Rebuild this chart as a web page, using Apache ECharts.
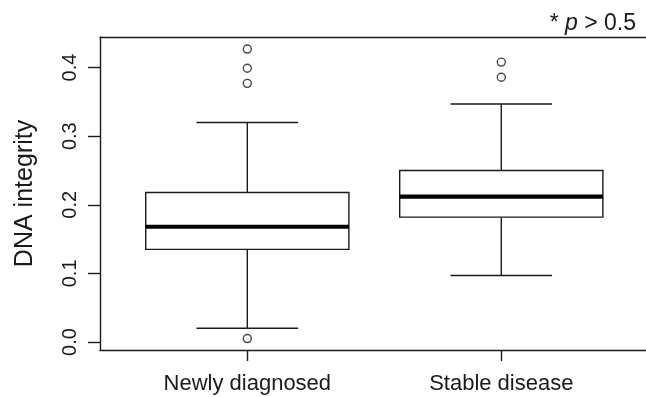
<!DOCTYPE html>
<html>
<head>
<meta charset="utf-8">
<script src="https://cdn.jsdelivr.net/npm/echarts@6/dist/echarts.min.js"></script>
<style>
html,body{margin:0;padding:0;background:#fff;}
#chart{width:646px;height:397px;}
</style>
</head>
<body>
<div id="chart"></div>
<script>
// ---- data ----
var categories = ['Newly diagnosed', 'Stable disease'];
var positions = [1, 2];
var lowerWhisker = [0.020, 0.097];
var q1 = [0.135, 0.182];
var median = [0.168, 0.212];
var q3 = [0.218, 0.250];
var upperWhisker = [0.320, 0.347];
var outliers = [[0.427, 0.399, 0.377, 0.005], [0.408, 0.386]];
var yTicks = [0, 0.1, 0.2, 0.3, 0.4];
var yTickLabels = ['0.0', '0.1', '0.2', '0.3', '0.4'];

var FONT = 'Liberation Sans';
var INK = '#1a1a1a';

var boxData = positions.map(function (p, i) {
  return [p, lowerWhisker[i], q1[i], median[i], q3[i], upperWhisker[i]];
});
var outlierData = [];
positions.forEach(function (p, i) {
  outliers[i].forEach(function (v) { outlierData.push([p, v]); });
});

var chart = echarts.init(document.getElementById('chart'), null, {renderer: 'canvas'});

function renderBox(params, api) {
  var x = api.value(0);
  var lo = api.coord([x, api.value(1)]);
  var b1 = api.coord([x, api.value(2)]);
  var md = api.coord([x, api.value(3)]);
  var b3 = api.coord([x, api.value(4)]);
  var hi = api.coord([x, api.value(5)]);
  var halfBox = api.size([0.4, 0])[0];
  var halfCap = api.size([0.2, 0])[0];
  var cx = lo[0];
  var ls = {stroke: INK, lineWidth: 1.4, fill: null};
  return {
    type: 'group',
    children: [
      {type: 'line', shape: {x1: cx, y1: lo[1], x2: cx, y2: b1[1]}, style: ls},
      {type: 'line', shape: {x1: cx, y1: b3[1], x2: cx, y2: hi[1]}, style: ls},
      {type: 'line', shape: {x1: cx - halfCap, y1: lo[1], x2: cx + halfCap, y2: lo[1]}, style: ls},
      {type: 'line', shape: {x1: cx - halfCap, y1: hi[1], x2: cx + halfCap, y2: hi[1]}, style: ls},
      {type: 'rect', shape: {x: cx - halfBox, y: b3[1], width: 2 * halfBox, height: b1[1] - b3[1]},
        style: {stroke: INK, lineWidth: 1.4, fill: '#fff'}},
      {type: 'line', shape: {x1: cx - halfBox, y1: md[1], x2: cx + halfBox, y2: md[1]},
        style: {stroke: '#000', lineWidth: 4.2}}
    ]
  };
}

var option = {
  backgroundColor: '#fff',
  animation: false,
  title: {
    text: '{a|* }{b|p}{a| > 0.5}',
    right: 5,
    top: 7,
    textStyle: {
      rich: {
        a: {fontFamily: FONT, fontSize: 23, color: INK, fontWeight: 'normal'},
        b: {fontFamily: FONT, fontSize: 23, color: INK, fontWeight: 'normal', fontStyle: 'italic'}
      }
    }
  },
  grid: {
    left: 100, top: 37, height: 313, width: 548.6,
    outerBoundsMode: 'none', containLabel: false,
    show: false
  },
  xAxis: [{
    type: 'value', min: 0.42, max: 2.58,
    splitLine: {show: false},
    axisLine: {show: true, onZero: false, lineStyle: {color: INK, width: 1.4}},
    axisTick: {show: true, length: 11, customValues: positions, lineStyle: {color: INK, width: 1.4}},
    axisLabel: {
      customValues: positions,
      formatter: function (v) { return categories[Math.round(v) - 1]; },
      fontFamily: FONT, fontSize: 22, color: INK, margin: 23
    }
  }, {
    type: 'value', position: 'top', min: 0.42, max: 2.58,
    splitLine: {show: false},
    axisLine: {show: true, onZero: false, lineStyle: {color: INK, width: 1.4}},
    axisTick: {show: false},
    axisLabel: {show: false}
  }],
  yAxis: {
    type: 'value', min: -0.01166, max: 0.4446,
    name: 'DNA integrity', nameLocation: 'middle', nameGap: 62,
    nameTextStyle: {fontFamily: FONT, fontSize: 25, color: INK},
    splitLine: {show: false},
    axisLine: {show: true, onZero: false, lineStyle: {color: INK, width: 1.4}},
    axisTick: {show: true, length: 12, customValues: yTicks, lineStyle: {color: INK, width: 1.4}},
    axisLabel: {
      customValues: yTicks,
      formatter: function (v) { return yTickLabels[yTicks.indexOf(Math.round(v * 10) / 10)]; },
      rotate: 90, fontFamily: FONT, fontSize: 20, color: INK, margin: 20
    }
  },
  series: [
    {
      type: 'custom',
      renderItem: renderBox,
      data: boxData,
      encode: {x: 0, y: [1, 2, 3, 4, 5]},
      z: 2
    },
    {
      type: 'scatter',
      data: outlierData,
      symbol: 'circle',
      symbolSize: 8,
      itemStyle: {color: '#fff', borderColor: INK, borderWidth: 1.4},
      z: 3
    }
  ]
};
chart.setOption(option);
</script>
</body>
</html>
